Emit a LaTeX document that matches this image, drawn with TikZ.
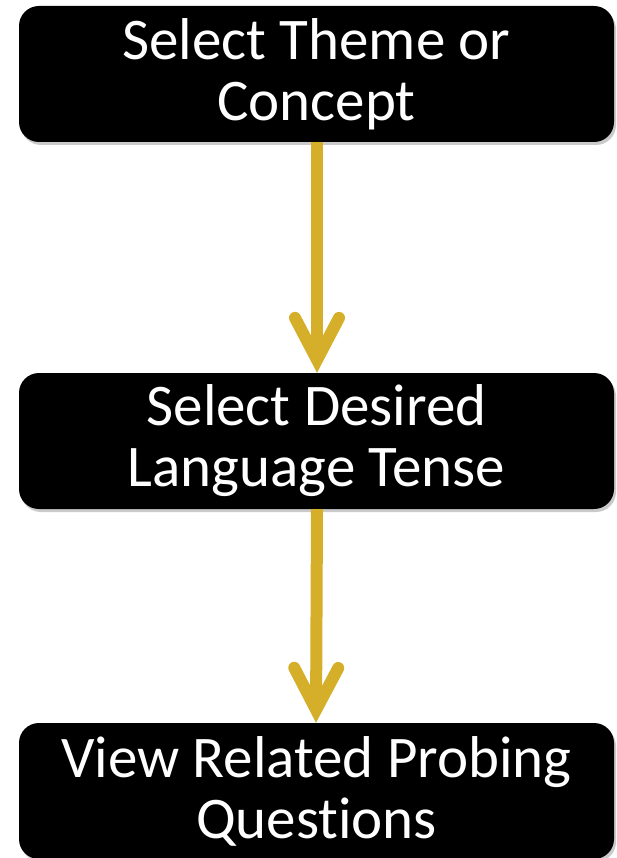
\documentclass[tikz,border=0pt]{standalone}
\usepackage{fontspec}
\setmainfont{Carlito}[Ligatures=NoCommon]
\usetikzlibrary{arrows.meta,shadows}
\definecolor{gold}{HTML}{D6AF2A}
\begin{document}
\begin{tikzpicture}[x=1pt,y=-1pt,
  stepbox/.style={rectangle, rounded corners=20pt, fill=black, text=white,
    minimum width=595pt, minimum height=136pt, align=center,
    font=\fontsize{59}{61}\selectfont,
    drop shadow={shadow xshift=2pt, shadow yshift=-3pt, opacity=0.35, fill=black!60}},
  flow/.style={draw=gold, line width=12pt,
    -{Straight Barb[length=42pt, width=44pt, line width=12pt, line cap=round, line join=miter]}}]
\useasboundingbox (0,0) rectangle (616,858);
\node[stepbox] (b1) at (316.5,74) {Select Theme or\\Concept};
\node[stepbox] (b2) at (316.5,441) {Select Desired\\Language Tense};
\node[stepbox] (b3) at (316.5,791) {View Related Probing\\Questions};
\draw[flow] (b1.south -| 317,0) -- (b2.north -| 317,0);
\draw[flow] (b2.south -| 317,0) -- (b3.north -| 316,0);
\end{tikzpicture}
\end{document}
